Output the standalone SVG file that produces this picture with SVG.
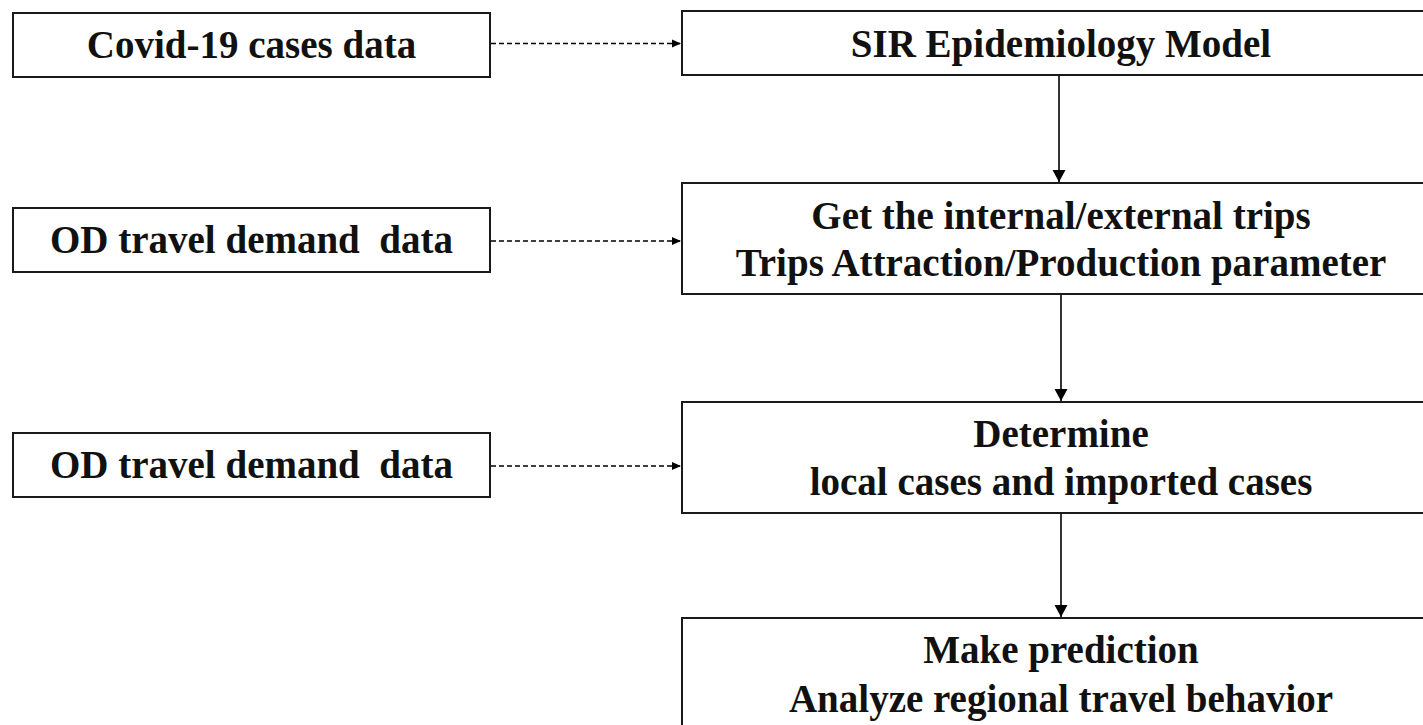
<svg xmlns="http://www.w3.org/2000/svg" width="1423" height="725" viewBox="0 0 1423 725">
<style>
.box{fill:#fff;stroke:#1a1a1a;stroke-width:2}
.t{font-family:"Liberation Serif","Times New Roman",serif;font-weight:bold;font-size:39px;fill:#111;text-anchor:middle}
.dash{stroke:#000;stroke-width:1.6;stroke-dasharray:5 3;fill:none}
.solid{stroke:#000;stroke-width:1.6;fill:none}
</style>
<defs>
<marker id="ah" markerUnits="userSpaceOnUse" markerWidth="10" markerHeight="10" refX="9" refY="5" orient="auto">
<path d="M0,1 L9,5 L0,9 Z" fill="#000"/>
</marker>
<marker id="av" markerUnits="userSpaceOnUse" markerWidth="14" markerHeight="14" refX="12" refY="7" orient="auto">
<path d="M0,0.5 L12,7 L0,13.5 Z" fill="#000"/>
</marker>
</defs>
<rect width="1423" height="725" fill="#fff"/>
<g id="covid">
<rect class="box" x="13" y="13" width="477" height="64"/>
<text class="t" x="251.5" y="58">Covid-19 cases data</text>
</g>
<g id="od1">
<rect class="box" x="13" y="208" width="477" height="64"/>
<text class="t" x="251.5" y="253" xml:space="preserve">OD travel demand  data</text>
</g>
<g id="od2">
<rect class="box" x="13" y="433" width="477" height="64"/>
<text class="t" x="251.5" y="478" xml:space="preserve">OD travel demand  data</text>
</g>
<g id="sir">
<rect class="box" x="682" y="11" width="760" height="64"/>
<text class="t" x="1061" y="57">SIR Epidemiology Model</text>
</g>
<g id="trips">
<rect class="box" x="682" y="183" width="760" height="111"/>
<text class="t" x="1061" y="229">Get the internal/external trips</text>
<text class="t" x="1061" y="276">Trips Attraction/Production parameter</text>
</g>
<g id="determine">
<rect class="box" x="682" y="402" width="760" height="111"/>
<text class="t" x="1061" y="447">Determine</text>
<text class="t" x="1061" y="495">local cases and imported cases</text>
</g>
<g id="predict">
<rect class="box" x="682" y="618" width="760" height="130"/>
<text class="t" x="1061" y="663">Make prediction</text>
<text class="t" x="1061" y="712">Analyze regional travel behavior</text>
</g>
<g id="connectors">
<line class="dash" x1="491" y1="43.5" x2="681" y2="43.5" marker-end="url(#ah)"/>
<line class="dash" x1="491" y1="241" x2="681" y2="241" marker-end="url(#ah)"/>
<line class="dash" x1="491" y1="466" x2="681" y2="466" marker-end="url(#ah)"/>
<line class="solid" x1="1059" y1="76" x2="1059" y2="182" marker-end="url(#av)"/>
<line class="solid" x1="1061" y1="295" x2="1061" y2="401" marker-end="url(#av)"/>
<line class="solid" x1="1061" y1="514" x2="1061" y2="617" marker-end="url(#av)"/>
</g>
</svg>
